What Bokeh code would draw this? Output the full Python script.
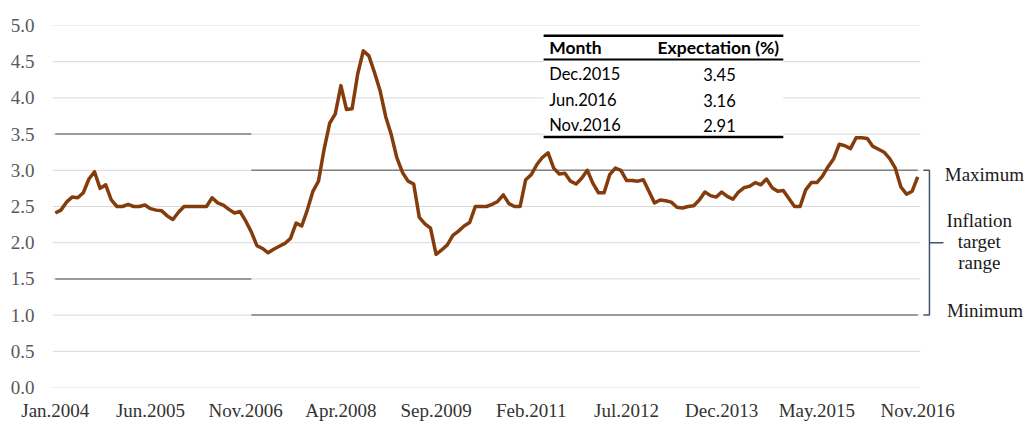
from bokeh.plotting import figure
from bokeh.models import Range1d, FixedTicker, PrintfTickFormatter
from bokeh.core.properties import value
from bokeh.embed import file_html
from bokeh.resources import INLINE

# ---------------- data ----------------
expectation = [
    2.41, 2.45, 2.56, 2.63, 2.62, 2.69, 2.88, 2.98, 2.75, 2.80, 2.59, 2.50,   # 2004
    2.50, 2.53, 2.50, 2.50, 2.52, 2.47, 2.45, 2.44, 2.37, 2.32, 2.42, 2.50,   # 2005
    2.50, 2.50, 2.50, 2.50, 2.62, 2.55, 2.52, 2.46, 2.41, 2.43, 2.30, 2.15,   # 2006
    1.96, 1.92, 1.86, 1.91, 1.95, 1.99, 2.06, 2.27, 2.23, 2.45, 2.71, 2.85,   # 2007
    3.29, 3.65, 3.78, 4.17, 3.84, 3.85, 4.33, 4.65, 4.58, 4.35, 4.10, 3.74,   # 2008
    3.49, 3.17, 2.97, 2.85, 2.81, 2.35, 2.26, 2.20, 1.84, 1.90, 1.97, 2.10,   # 2009
    2.16, 2.23, 2.28, 2.50, 2.50, 2.50, 2.53, 2.57, 2.66, 2.54, 2.50, 2.50,   # 2010
    2.87, 2.94, 3.08, 3.18, 3.24, 3.03, 2.95, 2.96, 2.85, 2.81, 2.89, 3.00,   # 2011
    2.82, 2.69, 2.69, 2.94, 3.03, 3.00, 2.86, 2.86, 2.85, 2.87, 2.71, 2.55,   # 2012
    2.59, 2.58, 2.56, 2.49, 2.48, 2.50, 2.51, 2.59, 2.70, 2.65, 2.63, 2.70,   # 2013
    2.64, 2.60, 2.70, 2.76, 2.78, 2.83, 2.80, 2.88, 2.76, 2.71, 2.72, 2.61,   # 2014
    2.50, 2.50, 2.73, 2.83, 2.83, 2.92, 3.05, 3.16, 3.36, 3.34, 3.30, 3.45,   # 2015
    3.45, 3.44, 3.33, 3.29, 3.25, 3.16, 3.03, 2.77, 2.67, 2.71, 2.91,         # 2016 (Jan-Nov)
]
month_index = list(range(len(expectation)))

tick_positions = [0, 17, 34, 51, 68, 85, 102, 119, 136, 154]
tick_labels = ["Jan.2004", "Jun.2005", "Nov.2006", "Apr.2008", "Sep.2009",
               "Feb.2011", "Jul.2012", "Dec.2013", "May.2015", "Nov.2016"]

# inflation target range: (start month, end month, upper, lower)
band_start = [0, 35]
band_end = [35, 154]
band_upper = [3.5, 3.0]
band_lower = [1.5, 1.0]

y_ticks = [0.0, 0.5, 1.0, 1.5, 2.0, 2.5, 3.0, 3.5, 4.0, 4.5, 5.0]

table_header = ["Month", "Expectation (%)"]
table_months = ["Dec.2015", "Jun.2016", "Nov.2016"]
table_values = [3.45, 3.16, 2.91]

# ---------------- figure ----------------
W, H = 1024, 423
left_px = 52
px_per_month = 5.6
x_end = -0.5 + (W - left_px) / px_per_month

p = figure(width=W, height=H, output_backend="svg", toolbar_location=None,
           x_range=Range1d(-0.5, x_end), y_range=Range1d(0, 5),
           min_border_left=left_px, min_border_right=0,
           min_border_top=25, min_border_bottom=34)
p.outline_line_color = None
p.xgrid.visible = False
p.ygrid.visible = False
p.background_fill_color = "white"
p.border_fill_color = "white"

# own gridlines (stop at the end of the data area)
p.segment(x0=[-0.5] * len(y_ticks), x1=[154.5] * len(y_ticks), y0=y_ticks, y1=y_ticks,
          line_color="#d9d9d9", line_width=1)

# target range lines
p.segment(x0=band_start, x1=band_end, y0=band_upper, y1=band_upper,
          line_color="#7f7f7f", line_width=1.5)
p.segment(x0=band_start, x1=band_end, y0=band_lower, y1=band_lower,
          line_color="#7f7f7f", line_width=1.5)

# table background + rules
tbl_left, tbl_right = 87.2, 130.0
p.quad(left=[tbl_left], right=[tbl_right], top=[4.88], bottom=[3.47],
       fill_color="white", line_color=None)
p.segment(x0=[tbl_left] * 3, x1=[tbl_right] * 3, y0=[4.86, 4.53, 3.46], y1=[4.86, 4.53, 3.46],
          line_color="black", line_width=[2.5, 2, 2.5])

row_y = [4.33, 3.97, 3.62]
p.text(x=[88.2, 118.4], y=[4.69, 4.69], text=table_header,
       text_font=value("Lato"), text_font_size="17.5px", text_font_style="bold",
       text_align=["left", "center"], text_baseline="middle", text_color="black")
p.text(x=[88.2] * 3, y=row_y, text=table_months,
       text_font=value("Lato"), text_font_size="16.5px",
       text_align="left", text_baseline="middle", text_color="black")
p.text(x=[118.6] * 3, y=row_y, text=["%.2f" % v for v in table_values],
       text_font=value("Lato"), text_font_size="16.5px",
       text_align="center", text_baseline="middle", text_color="black")

# main series
p.line(month_index, expectation, line_color="#843c0c", line_width=3.5, line_join="round")

# bracket for the target range
bx = 156.1
p.line(x=[155.0, bx, bx, 155.0], y=[3.0, 3.0, 1.0, 1.0], line_color="#44546a", line_width=1.5)
p.segment(x0=[bx], x1=[158.6], y0=[2.0], y1=[2.0], line_color="#44546a", line_width=1.5)

serif = value("Liberation Serif")
p.text(x=[165.9, 165.0, 165.0, 165.0, 166.0], y=[2.94, 2.31, 2.02, 1.73, 1.06],
       text=["Maximum", "Inflation", "target", "range", "Minimum"],
       text_font=serif, text_font_size="19px", text_align="center",
       text_baseline="middle", text_color="#1a1a1a")

# axes
p.xaxis.ticker = FixedTicker(ticks=tick_positions)
p.xaxis.major_label_overrides = {t: l for t, l in zip(tick_positions, tick_labels)}
p.xaxis.axis_line_color = None
p.xaxis.major_tick_line_color = None
p.xaxis.minor_tick_line_color = None
p.xaxis.major_tick_out = 0
p.xaxis.major_label_standoff = 12
p.xaxis.major_label_text_font = "Liberation Serif"
p.xaxis.major_label_text_font_size = "19px"
p.xaxis.major_label_text_color = "#333333"

p.yaxis.ticker = FixedTicker(ticks=y_ticks)
p.yaxis.formatter = PrintfTickFormatter(format="%.1f")
p.yaxis.axis_line_color = None
p.yaxis.major_tick_line_color = None
p.yaxis.minor_tick_line_color = None
p.yaxis.major_tick_out = 0
p.yaxis.major_label_standoff = 18
p.yaxis.major_label_text_font = "Liberation Serif"
p.yaxis.major_label_text_font_size = "19px"
p.yaxis.major_label_text_color = "#595959"

open("out.html", "w").write(file_html(p, INLINE))
